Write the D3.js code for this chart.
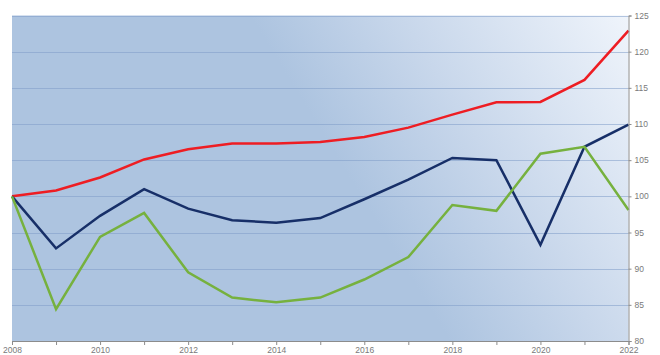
<!DOCTYPE html>
<html><head><meta charset="utf-8">
<script src="https://cdn.jsdelivr.net/npm/d3@7"></script>
<style>body{margin:0;background:#fff}svg{display:block}text{font-family:"Liberation Sans",Arial,sans-serif}</style>
</head><body><svg id="c" width="660" height="355"></svg>
<script>
const years = [2008,2009,2010,2011,2012,2013,2014,2015,2016,2017,2018,2019,2020,2021,2022];
const redSeries = [100,100.8,102.6,105.1,106.5,107.3,107.3,107.5,108.2,109.5,111.3,113.0,113.05,116.1,122.9];
const navySeries = [100,92.8,97.3,101.0,98.3,96.7,96.35,97.0,99.6,102.3,105.3,105.0,93.3,106.85,109.9];
const greenSeries = [100,84.4,94.4,97.7,89.5,86.0,85.35,86.0,88.5,91.6,98.8,98.0,105.9,106.85,98.1];
const yTicks = [80,85,90,95,100,105,110,115,120,125];
const xTicks = [2008,2010,2012,2014,2016,2018,2020,2022];

const svg = d3.select("#c");
const L=12, R=628.5, T=15.5, B=341;
const x = d3.scaleLinear().domain([2008,2022]).range([L,R]);
const y = d3.scaleLinear().domain([80,125]).range([B,T]);

const defs = svg.append("defs");
const g = defs.append("linearGradient").attr("id","bg").attr("gradientUnits","userSpaceOnUse")
  .attr("x1",250).attr("y1",15).attr("x2",524).attr("y2",-153);
g.append("stop").attr("offset","0").attr("stop-color","#adc4e0");
g.append("stop").attr("offset","0.4").attr("stop-color","#c8d7eb");
g.append("stop").attr("offset","1").attr("stop-color","#eff4fb");

svg.append("rect").attr("x",L).attr("y",T).attr("width",R-L).attr("height",B-T).attr("fill","url(#bg)");

svg.append("g").selectAll("line").data(yTicks.slice(1)).join("line")
  .attr("x1",L).attr("x2",R).attr("y1",d=>Math.round(y(d))+0.5).attr("y2",d=>Math.round(y(d))+0.5)
  .attr("stroke","#7f9dc8").attr("stroke-opacity",0.55).attr("stroke-width",1);

const line = d3.line().x((d,i)=>x(years[i])).y(d=>y(d));
const series = [[redSeries,"#ee1d23"],[navySeries,"#172f68"],[greenSeries,"#76b13e"]];
svg.append("g").selectAll("path").data(series).join("path")
  .attr("d",d=>line(d[0])).attr("fill","none").attr("stroke",d=>d[1])
  .attr("stroke-width",2.5).attr("stroke-linejoin","miter");

const xAxis = d3.axisBottom(x).tickValues(years).tickSize(4).tickFormat(d=>xTicks.includes(d)?d:"");
const gx = svg.append("g").attr("transform",`translate(0,${B})`).call(xAxis);
gx.select(".domain").attr("stroke","#8c8c8c");
gx.selectAll(".tick line").attr("stroke","#8c8c8c");
gx.selectAll("text").attr("fill","#7a7a7a").attr("font-size",8.5).attr("dy","0").attr("y",11.5);

const yAxis = d3.axisRight(y).tickValues(yTicks).tickSize(3).tickPadding(3);
const gy = svg.append("g").attr("transform",`translate(${R},0)`).call(yAxis);
gy.select(".domain").attr("stroke","#8c8c8c");
gy.selectAll(".tick line").attr("stroke","#8c8c8c");
gy.selectAll("text").attr("fill","#7a7a7a").attr("font-size",8.5).attr("dy","0.3em");
</script></body></html>
